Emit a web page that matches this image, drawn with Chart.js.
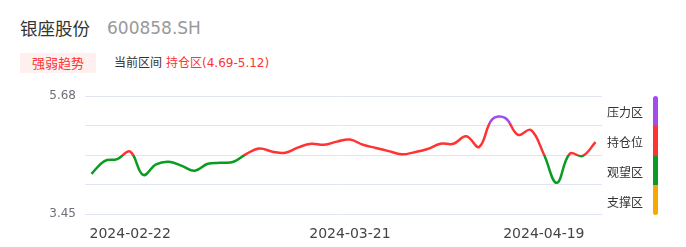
<!DOCTYPE html>
<html lang="zh">
<head>
<meta charset="UTF-8">
<title>银座股份 强弱趋势</title>
<style>
  body {
    margin: 0;
    width: 686px;
    height: 247px;
    background: #fff;
    position: relative;
    overflow: hidden;
    font-family: "DejaVu Sans", "Noto Sans CJK SC", sans-serif;
  }
  .name { position: absolute; left: 20px; top: 16px; font-size: 17.5px; color: #333; font-family: "Noto Sans CJK SC", sans-serif; line-height: 24px; }
  .code { position: absolute; left: 107px; top: 16px; font-size: 17px; color: #999; line-height: 24px; }
  .badge {
    position: absolute; left: 20px; top: 53px; width: 76px; height: 20px;
    background: #fef0ee; color: #f33; font-size: 13px; line-height: 20px; text-align: center;
    font-family: "Noto Sans CJK SC", sans-serif;
  }
  .range { position: absolute; left: 114px; top: 54px; font-size: 12px; line-height: 18px; color: #333; font-family: "DejaVu Sans", "Noto Sans CJK SC", sans-serif; }
  .range span { color: #f33; margin-left: 4px; }
  #wrap { position: absolute; left: 0; top: 80px; width: 610px; height: 167px; }
  .zone { position: absolute; left: 607px; font-size: 12px; color: #333; line-height: 16px; font-family: "Noto Sans CJK SC", sans-serif; }
  .bar { position: absolute; left: 653px; top: 96px; width: 5px; height: 119px; border-radius: 2.5px; overflow: hidden; }
  .bar div { height: 25%; }
</style>
</head>
<body>

<div class="name">银座股份</div>
<div class="code">600858.SH</div>
<div class="badge">强弱趋势</div>
<div class="range">当前区间<span>持仓区(4.69-5.12)</span></div>

<div id="wrap"><canvas id="trend"></canvas></div>

<div class="zone" style="top:104px">压力区</div>
<div class="zone" style="top:134px">持仓位</div>
<div class="zone" style="top:164px">观望区</div>
<div class="zone" style="top:194px">支撑区</div>
<div class="bar" id="bar"></div>

<script src="https://cdn.jsdelivr.net/npm/chart.js"></script>
<script>
  const dates = [
    '2024-02-19', '2024-02-20', '2024-02-21', '2024-02-22', '2024-02-23',
    '2024-02-26', '2024-02-27', '2024-02-28', '2024-02-29', '2024-03-01',
    '2024-03-04', '2024-03-05', '2024-03-06', '2024-03-07', '2024-03-08',
    '2024-03-11', '2024-03-13', '2024-03-15', '2024-03-18', '2024-03-20',
    '2024-03-21', '2024-03-22', '2024-03-25', '2024-03-26', '2024-03-27',
    '2024-03-28', '2024-03-29', '2024-04-01', '2024-04-02', '2024-04-03',
    '2024-04-08', '2024-04-09', '2024-04-11', '2024-04-12', '2024-04-16',
    '2024-04-19', '2024-04-22', '2024-04-23', '2024-04-24', '2024-04-25'
  ];
  const prices = [
    4.21, 4.45, 4.49, 4.63, 4.19, 4.39, 4.44, 4.36, 4.27, 4.40,
    4.42, 4.44, 4.59, 4.69, 4.63, 4.61, 4.71, 4.78, 4.76, 4.82,
    4.86, 4.76, 4.70, 4.64, 4.58, 4.62, 4.68, 4.78, 4.78, 4.92,
    4.72, 5.24, 5.27, 4.95, 5.04, 4.58, 4.04, 4.59, 4.55, 4.81
  ];
  const xTickLabels = ['2024-02-22', '2024-03-21', '2024-04-19'];
  const yMin = 3.45;
  const yMax = 5.68;

  // zones, top to bottom: 压力区 / 持仓位 / 观望区 / 支撑区
  const zoneNames = ['压力区', '持仓位', '观望区', '支撑区'];
  const zoneColors = ['#a24cf0', '#ff3333', '#0a9b22', '#f8a800'];
  const zoneBounds = [5.16, 4.575, 3.99];

  const bar = document.getElementById('bar');
  zoneColors.forEach(c => {
    const d = document.createElement('div');
    d.style.background = c;
    bar.appendChild(d);
  });

  function lineGradient(ctx) {
    const chart = ctx.chart;
    const area = chart.chartArea;
    if (!area) return zoneColors[1];
    const y = chart.scales.y;
    const h = area.bottom - area.top;
    const g = chart.ctx.createLinearGradient(0, area.top, 0, area.bottom);
    const pos = v => Math.min(1, Math.max(0, (y.getPixelForValue(v) - area.top) / h));
    g.addColorStop(0, zoneColors[0]);
    zoneBounds.forEach((b, i) => {
      const p = pos(b);
      g.addColorStop(p, zoneColors[i]);
      g.addColorStop(p, zoneColors[i + 1]);
    });
    g.addColorStop(1, zoneColors[3]);
    return g;
  }

  new Chart(document.getElementById('trend'), {
    type: 'line',
    data: {
      labels: dates,
      datasets: [{
        data: prices,
        borderColor: lineGradient,
        borderWidth: 2.5,
        pointRadius: 0,
        tension: 0.4,
        fill: false
      }]
    },
    options: {
      responsive: true,
      maintainAspectRatio: false,
      animation: false,
      layout: { padding: { top: 14, right: 8, left: 0, bottom: 0 } },
      plugins: { legend: { display: false }, tooltip: { enabled: false } },
      scales: {
        x: {
          offset: true,
          grid: { display: false },
          border: { display: false },
          afterFit: s => { s.height = 33; },
          ticks: {
            autoSkip: false,
            maxRotation: 0,
            padding: 4,
            color: '#444',
            font: { size: 14, family: '"DejaVu Sans", sans-serif' },
            callback: (v, i) => xTickLabels.includes(dates[i]) ? dates[i] : ''
          }
        },
        y: {
          min: yMin,
          max: yMax,
          afterFit: s => { s.width = 85; },
          afterBuildTicks: s => {
            const step = (yMax - yMin) / 4;
            s.ticks = [0, 1, 2, 3, 4].map(k => ({ value: yMin + k * step }));
          },
          grid: { color: '#e0e6f1', drawTicks: false },
          border: { display: false },
          ticks: {
            padding: 9,
            color: '#6e7079',
            font: { size: 12, family: '"DejaVu Sans", sans-serif' },
            callback: v => (Math.abs(v - yMin) < 1e-6 || Math.abs(v - yMax) < 1e-6) ? v.toFixed(2) : ''
          }
        }
      }
    }
  });
</script>
</body>
</html>
